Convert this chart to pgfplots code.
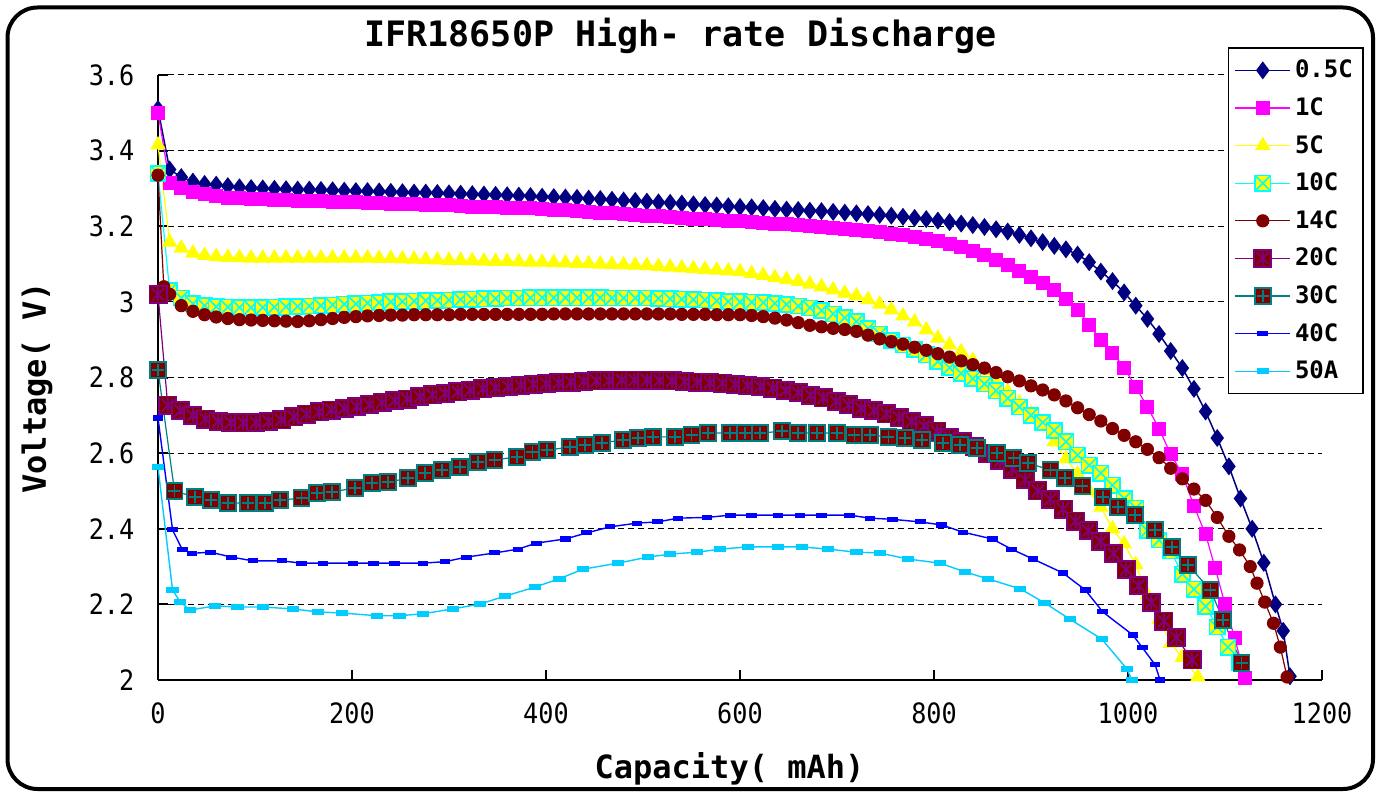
\documentclass[border=0pt]{standalone}
\usepackage{fontspec}
\usepackage{pgfplots}
\pgfplotsset{compat=1.18}
\newfontfamily\monof{DejaVu Sans Mono}
\newfontfamily\tickfont[FakeStretch=0.9]{DejaVu Sans Mono}
\newcommand{\tickf}{\tickfont\fontsize{14pt}{16pt}\selectfont}
\newcommand{\titlef}{\monof\bfseries\fontsize{17.5pt}{20pt}\selectfont}
\newcommand{\labf}{\monof\bfseries\fontsize{16pt}{18pt}\selectfont}
\newcommand{\legf}{\monof\bfseries\fontsize{12pt}{14pt}\selectfont}

\definecolor{navyc}{RGB}{0,0,128}
\definecolor{magc}{RGB}{255,0,255}
\definecolor{yelc}{RGB}{255,255,0}
\definecolor{cyac}{RGB}{0,255,255}
\definecolor{maroonc}{RGB}{128,0,0}
\definecolor{purplec}{RGB}{128,0,128}
\definecolor{tealc}{RGB}{0,128,128}
\definecolor{bluec}{RGB}{0,0,255}
\definecolor{skyc}{RGB}{0,204,255}

% boxed marks used by the high-rate series
\pgfdeclareplotmark{boxx}{%
  \pgfpathrectangle{\pgfqpoint{-\pgfplotmarksize}{-\pgfplotmarksize}}{\pgfqpoint{2\pgfplotmarksize}{2\pgfplotmarksize}}%
  \pgfusepathqfillstroke
  \pgfpathmoveto{\pgfqpoint{-\pgfplotmarksize}{-\pgfplotmarksize}}%
  \pgfpathlineto{\pgfqpoint{\pgfplotmarksize}{\pgfplotmarksize}}%
  \pgfpathmoveto{\pgfqpoint{-\pgfplotmarksize}{\pgfplotmarksize}}%
  \pgfpathlineto{\pgfqpoint{\pgfplotmarksize}{-\pgfplotmarksize}}%
  \pgfusepathqstroke}
\pgfdeclareplotmark{boxast}{%
  \pgfpathrectangle{\pgfqpoint{-\pgfplotmarksize}{-\pgfplotmarksize}}{\pgfqpoint{2\pgfplotmarksize}{2\pgfplotmarksize}}%
  \pgfusepathqfillstroke
  \pgfpathmoveto{\pgfqpoint{-.7\pgfplotmarksize}{-.7\pgfplotmarksize}}%
  \pgfpathlineto{\pgfqpoint{.7\pgfplotmarksize}{.7\pgfplotmarksize}}%
  \pgfpathmoveto{\pgfqpoint{-.7\pgfplotmarksize}{.7\pgfplotmarksize}}%
  \pgfpathlineto{\pgfqpoint{.7\pgfplotmarksize}{-.7\pgfplotmarksize}}%
  \pgfpathmoveto{\pgfqpoint{0pt}{-.8\pgfplotmarksize}}%
  \pgfpathlineto{\pgfqpoint{0pt}{.8\pgfplotmarksize}}%
  \pgfusepathqstroke}
\pgfdeclareplotmark{boxplus}{%
  \pgfpathrectangle{\pgfqpoint{-\pgfplotmarksize}{-\pgfplotmarksize}}{\pgfqpoint{2\pgfplotmarksize}{2\pgfplotmarksize}}%
  \pgfusepathqfillstroke
  \pgfpathmoveto{\pgfqpoint{-.75\pgfplotmarksize}{0pt}}%
  \pgfpathlineto{\pgfqpoint{.75\pgfplotmarksize}{0pt}}%
  \pgfpathmoveto{\pgfqpoint{0pt}{-.75\pgfplotmarksize}}%
  \pgfpathlineto{\pgfqpoint{0pt}{.75\pgfplotmarksize}}%
  \pgfusepathqstroke}
\pgfdeclareplotmark{dash}{%
  \pgfpathrectangle{\pgfqpoint{-\pgfplotmarksize}{-.4\pgfplotmarksize}}{\pgfqpoint{2\pgfplotmarksize}{.8\pgfplotmarksize}}%
  \pgfusepathqfillstroke}

\begin{document}
\begin{tikzpicture}
\useasboundingbox (0,0) rectangle (690.5pt,397pt);
\draw[line width=2pt, rounded corners=15pt] (3.75pt,2.5pt) rectangle (686.5pt,393.25pt);
\begin{axis}[
  at={(79pt,57pt)}, anchor=south west,
  scale only axis, width=582pt, height=302.5pt,
  xmin=0, xmax=1200, ymin=2, ymax=3.6,
  xtick={0,200,400,600,800,1000,1200},
  ytick={2,2.2,2.4,2.6,2.8,3,3.2,3.4},
  extra y ticks={3.6},
  extra y tick style={grid style={gray!60, densely dotted, line width=0.5pt}},
  axis x line*=bottom, axis y line*=left,
  axis line style={line width=1pt},
  tick align=inside, major tick length=5pt,
  tick style={black, line width=1pt},
  ymajorgrids,
  major grid style={densely dashed, black, line width=0.5pt},
  /pgf/number format/assume math mode=true,
  /pgf/number format/1000 sep={},
  tick label style={font=\tickf},
  yticklabel style={xshift=-8.3pt},
  xticklabel style={yshift=-7.8pt},
  title={IFR18650P High- rate Discharge},
  title style={font=\titlef, at={(axis description cs:0.449,1.028)}, anchor=base},
  xlabel={Capacity( mAh)},
  xlabel style={font=\labf, at={(axis description cs:0.491,-0.1636)}, anchor=base},
  ylabel={Voltage( V)},
  ylabel style={font=\labf, at={(axis description cs:-0.104,0.483)}, anchor=center, rotate=0},
  legend style={at={(axis description cs:0.919,1.046)}, anchor=north west,
    draw=black, line width=0.8pt, fill=white, font=\legf,
    inner xsep=3pt, inner ysep=4pt, row sep=4.4pt},
  legend cell align=left,
  legend image code/.code={\draw[mark repeat=2,mark phase=2] plot coordinates {(0pt,0pt) (13.75pt,0pt) (27.5pt,0pt)};},
]
% 0.5C
\addplot[color=navyc, line width=0.75pt, mark=diamond*, mark size=3.9pt, mark options={solid}] coordinates {
(0,3.51)(12,3.35)(24,3.33)(36,3.318)(48,3.312)(60,3.31)(72,3.306)(84,3.303)(96,3.301)(108,3.300)
(120,3.299)(132,3.298)(144,3.297)(156,3.297)(168,3.296)(180,3.295)(192,3.294)(204,3.293)(216,3.293)(228,3.292)
(240,3.291)(252,3.290)(264,3.289)(276,3.289)(288,3.288)(300,3.287)(312,3.286)(324,3.285)(336,3.284)(348,3.283)
(360,3.282)(372,3.281)(384,3.280)(396,3.278)(408,3.277)(420,3.276)(432,3.275)(444,3.273)(456,3.272)(468,3.270)
(480,3.268)(492,3.267)(504,3.265)(516,3.263)(528,3.262)(540,3.260)(552,3.258)(564,3.256)(576,3.255)(588,3.253)
(600,3.251)(612,3.250)(624,3.248)(636,3.246)(648,3.244)(660,3.243)(672,3.241)(684,3.240)(696,3.238)(708,3.236)
(720,3.234)(732,3.232)(744,3.230)(756,3.228)(768,3.225)(780,3.222)(792,3.219)(804,3.215)(816,3.211)(828,3.207)
(840,3.203)(852,3.198)(864,3.192)(876,3.186)(888,3.177)(900,3.168)(912,3.158)(924,3.148)(936,3.139)(948,3.125)
(960,3.105)(972,3.08)(984,3.055)(996,3.025)(1008,2.99)(1020,2.955)(1032,2.915)(1044,2.87)(1056,2.825)(1068,2.77)
(1080,2.71)(1092,2.64)(1104,2.565)(1116,2.48)(1128,2.40)(1140,2.31)(1152,2.20)(1160,2.13)(1167,2.01)
};
\addlegendentry{0.5C}
% 1C
\addplot[color=magc, line width=0.6pt, mark=square*, mark size=3.2pt, mark options={solid}] coordinates {
(0,3.50)(12,3.315)(24,3.30)(36,3.29)(48,3.284)(60,3.279)(72,3.276)(84,3.274)(96,3.272)(108,3.271)
(120,3.270)(132,3.269)(144,3.268)(156,3.267)(168,3.266)(180,3.265)(192,3.264)(204,3.263)(216,3.262)(228,3.261)
(240,3.260)(252,3.259)(264,3.258)(276,3.257)(288,3.256)(300,3.255)(312,3.254)(324,3.252)(336,3.251)(348,3.250)
(360,3.249)(372,3.248)(384,3.247)(396,3.246)(408,3.244)(420,3.242)(432,3.240)(444,3.238)(456,3.236)(468,3.234)
(480,3.232)(492,3.230)(504,3.228)(516,3.226)(528,3.224)(540,3.222)(552,3.220)(564,3.218)(576,3.216)(588,3.215)
(600,3.213)(612,3.211)(624,3.209)(636,3.207)(648,3.205)(660,3.203)(672,3.201)(684,3.199)(696,3.196)(708,3.193)
(720,3.190)(732,3.187)(744,3.184)(756,3.180)(768,3.176)(780,3.171)(792,3.166)(804,3.160)(816,3.154)(828,3.145)
(840,3.135)(852,3.124)(864,3.112)(876,3.098)(888,3.082)(900,3.066)(912,3.050)(924,3.032)(936,3.008)(948,2.978)
(960,2.94)(972,2.898)(984,2.866)(996,2.826)(1008,2.775)(1020,2.722)(1032,2.665)(1044,2.597)(1056,2.545)(1068,2.46)
(1080,2.385)(1090,2.295)(1100,2.20)(1110,2.11)(1121,2.005)
};
\addlegendentry{1C}
% 5C
\addplot[color=yelc, line width=0.6pt, mark=triangle*, mark size=3.9pt, mark options={solid}] coordinates {
(0,3.415)(12,3.158)(24,3.142)(36,3.129)(48,3.123)(60,3.12)(72,3.118)(84,3.117)(96,3.116)(108,3.116)
(120,3.116)(132,3.116)(144,3.116)(156,3.116)(168,3.116)(180,3.116)(192,3.116)(204,3.116)(216,3.116)(228,3.115)
(240,3.115)(252,3.114)(264,3.113)(276,3.112)(288,3.111)(300,3.11)(312,3.11)(324,3.109)(336,3.108)(348,3.107)
(360,3.107)(372,3.106)(384,3.105)(396,3.105)(408,3.104)(420,3.103)(432,3.102)(444,3.101)(456,3.1)(468,3.099)
(480,3.098)(492,3.097)(504,3.096)(516,3.094)(528,3.092)(540,3.09)(552,3.088)(564,3.086)(576,3.084)(588,3.082)
(600,3.08)(612,3.075)(624,3.07)(636,3.064)(648,3.059)(660,3.054)(672,3.047)(684,3.04)(696,3.032)(708,3.023)
(720,3.016)(732,3.006)(744,2.994)(756,2.979)(768,2.963)(780,2.947)(792,2.926)(804,2.904)(816,2.886)(828,2.868)
(840,2.845)(852,2.818)(864,2.79)(876,2.762)(888,2.733)(900,2.705)(912,2.68)(924,2.63)(936,2.585)(948,2.545)
(960,2.50)(972,2.457)(984,2.40)(996,2.36)(1008,2.305)(1020,2.225)(1032,2.16)(1044,2.097)(1056,2.06)(1072,2.008)
};
\addlegendentry{5C}
% 10C
\addplot[color=cyac, line width=0.6pt, mark=boxx, mark size=3.8pt, mark options={solid, fill=yelc, draw=cyac, line width=0.8pt}] coordinates {
(0,3.34)(12,3.03)(24,3.01)(36,2.995)(48,2.99)(60,2.987)(72,2.986)(84,2.985)(96,2.985)(108,2.985)
(120,2.986)(132,2.987)(144,2.988)(156,2.989)(168,2.99)(180,2.992)(192,2.994)(204,2.995)(216,2.997)(228,2.998)
(240,3.0)(252,3.001)(264,3.002)(276,3.003)(288,3.004)(300,3.005)(312,3.006)(324,3.007)(336,3.008)(348,3.009)
(360,3.01)(372,3.01)(384,3.011)(396,3.011)(408,3.011)(420,3.011)(432,3.011)(444,3.011)(456,3.011)(468,3.01)
(480,3.01)(492,3.01)(504,3.01)(516,3.009)(528,3.008)(540,3.007)(552,3.006)(564,3.005)(576,3.003)(588,3.001)
(600,3.0)(612,2.999)(624,2.998)(636,2.996)(648,2.993)(660,2.989)(672,2.984)(684,2.977)(696,2.968)(708,2.958)
(720,2.948)(732,2.93)(744,2.915)(756,2.898)(768,2.886)(780,2.875)(792,2.86)(804,2.842)(816,2.826)(828,2.811)
(840,2.797)(852,2.783)(864,2.765)(876,2.745)(888,2.722)(900,2.70)(912,2.681)(924,2.66)(936,2.63)(948,2.595)
(960,2.568)(972,2.547)(984,2.515)(996,2.48)(1008,2.455)(1020,2.395)(1032,2.37)(1044,2.341)(1056,2.28)(1068,2.24)
(1080,2.195)(1092,2.14)(1103,2.087)(1115,2.045)
};
\addlegendentry{10C}
% 14C
\addplot[color=maroonc, line width=0.6pt, mark=*, mark size=3pt, mark options={solid}] coordinates {
(0,3.335)(6,3.04)(12,3.02)(24,2.99)(36,2.975)(48,2.966)(60,2.96)(72,2.956)(84,2.953)(96,2.952)
(108,2.951)(120,2.95)(132,2.949)(144,2.948)(156,2.95)(168,2.953)(180,2.956)(192,2.959)(204,2.961)(216,2.963)
(228,2.964)(240,2.965)(252,2.965)(264,2.966)(276,2.966)(288,2.966)(300,2.966)(312,2.967)(324,2.967)(336,2.967)
(348,2.967)(360,2.967)(372,2.967)(384,2.967)(396,2.967)(408,2.968)(420,2.968)(432,2.968)(444,2.968)(456,2.968)
(468,2.968)(480,2.968)(492,2.968)(504,2.968)(516,2.968)(528,2.968)(540,2.967)(552,2.967)(564,2.967)(576,2.966)
(588,2.966)(600,2.966)(612,2.964)(624,2.961)(636,2.957)(648,2.952)(660,2.945)(672,2.938)(684,2.934)(696,2.93)
(708,2.927)(720,2.922)(732,2.912)(744,2.902)(756,2.895)(768,2.888)(780,2.88)(792,2.872)(804,2.863)(816,2.854)
(828,2.844)(840,2.834)(852,2.825)(864,2.813)(876,2.802)(888,2.791)(900,2.778)(912,2.767)(924,2.754)(936,2.738)
(948,2.72)(960,2.702)(972,2.685)(984,2.665)(996,2.647)(1008,2.63)(1020,2.61)(1032,2.588)(1044,2.56)(1056,2.532)
(1068,2.505)(1080,2.475)(1092,2.43)(1104,2.38)(1115,2.344)(1126,2.30)(1133,2.256)(1141,2.206)(1150,2.15)(1157,2.087)
(1164,2.008)
};
\addlegendentry{14C}
% 20C
\addplot[color=purplec, line width=0.6pt, mark=boxast, mark size=4.3pt, mark options={solid, fill=maroonc, draw=purplec, line width=0.9pt}] coordinates {
(0,3.02)(10,2.727)(23,2.712)(36,2.70)(49,2.69)(62,2.684)(75,2.681)(88,2.68)(101,2.681)(114,2.684)
(127,2.688)(140,2.696)(153,2.703)(166,2.709)(179,2.714)(192,2.718)(205,2.723)(218,2.728)(231,2.734)(244,2.739)
(257,2.743)(270,2.749)(283,2.754)(296,2.758)(309,2.762)(322,2.766)(335,2.77)(348,2.773)(361,2.776)(374,2.779)
(387,2.782)(400,2.784)(413,2.786)(426,2.788)(439,2.79)(452,2.791)(465,2.792)(478,2.793)(491,2.793)(504,2.793)
(517,2.792)(530,2.791)(543,2.789)(556,2.788)(569,2.786)(582,2.785)(595,2.782)(608,2.779)(621,2.776)(634,2.772)
(647,2.766)(660,2.76)(673,2.753)(686,2.746)(699,2.737)(712,2.728)(725,2.718)(738,2.712)(751,2.704)(764,2.694)
(777,2.684)(790,2.672)(803,2.658)(816,2.642)(829,2.63)(842,2.617)(855,2.6)(868,2.58)(881,2.557)(894,2.53)
(907,2.50)(920,2.478)(933,2.452)(946,2.42)(959,2.395)(972,2.366)(985,2.334)(998,2.292)(1011,2.25)(1024,2.205)
(1037,2.156)(1050,2.112)(1066,2.053)
};
\addlegendentry{20C}
% 30C
\addplot[color=tealc, line width=0.6pt, mark=boxplus, mark size=4pt, mark options={solid, fill=maroonc, draw=tealc, line width=0.9pt}] coordinates {
(0,2.82)(17,2.50)(38,2.484)(55,2.476)(72,2.468)(93,2.468)(110,2.468)(126,2.476)(148,2.481)(164,2.494)
(179,2.497)(203,2.508)(221,2.52)(237,2.523)(258,2.534)(275,2.547)(293,2.555)(311,2.563)(330,2.576)(347,2.582)
(370,2.59)(386,2.603)(401,2.608)(425,2.616)(440,2.621)(458,2.627)(479,2.635)(495,2.64)(510,2.643)(533,2.643)
(550,2.648)(567,2.653)(590,2.653)(605,2.653)(621,2.653)(643,2.658)(660,2.653)(679,2.653)(700,2.653)(718,2.648)
(734,2.648)(753,2.643)(770,2.64)(788,2.635)(809,2.627)(827,2.621)(844,2.613)(865,2.60)(882,2.587)(897,2.574)
(920,2.555)(935,2.534)(953,2.513)(974,2.484)(990,2.457)(1007,2.436)(1028,2.397)(1045,2.352)(1062,2.304)(1085,2.238)
(1098,2.159)(1117,2.045)
};
\addlegendentry{30C}
% 40C
\addplot[color=bluec, line width=0.7pt, mark=dash, mark size=2.3pt, mark options={solid}] coordinates {
(0,2.693)(15,2.397)(25,2.345)(35,2.335)(54,2.338)(76,2.325)(98,2.315)(128,2.315)(148,2.309)(170,2.309)
(201,2.309)(222,2.309)(244,2.309)(273,2.309)(296,2.313)(318,2.325)(347,2.336)(371,2.346)(390,2.362)(420,2.373)
(442,2.389)(466,2.405)(494,2.415)(515,2.418)(536,2.428)(566,2.43)(590,2.436)(612,2.436)(639,2.436)(662,2.436)
(684,2.436)(713,2.436)(734,2.428)(757,2.425)(786,2.418)(808,2.41)(830,2.391)(860,2.373)(880,2.346)(902,2.32)
(933,2.283)(956,2.238)(974,2.18)(1005,2.119)(1015,2.085)(1028,2.04)(1033,2.0)
};
\addlegendentry{40C}
% 50A
\addplot[color=skyc, line width=0.7pt, mark=dash, mark size=2.7pt, mark options={solid}] coordinates {
(0,2.563)(15,2.238)(23,2.206)(33,2.185)(59,2.196)(82,2.193)(108,2.193)(139,2.188)(165,2.18)(190,2.177)
(226,2.17)(249,2.17)(273,2.175)(304,2.188)(332,2.201)(358,2.222)(389,2.246)(414,2.268)(438,2.293)(474,2.309)
(505,2.325)(528,2.333)(556,2.338)(579,2.346)(608,2.352)(639,2.352)(664,2.352)(691,2.346)(720,2.338)(744,2.336)
(773,2.32)(806,2.309)(832,2.286)(856,2.267)(889,2.241)(914,2.204)(940,2.161)(973,2.108)(999,2.029)(1004,2.0)
};
\addlegendentry{50A}
\end{axis}
\end{tikzpicture}
\end{document}
